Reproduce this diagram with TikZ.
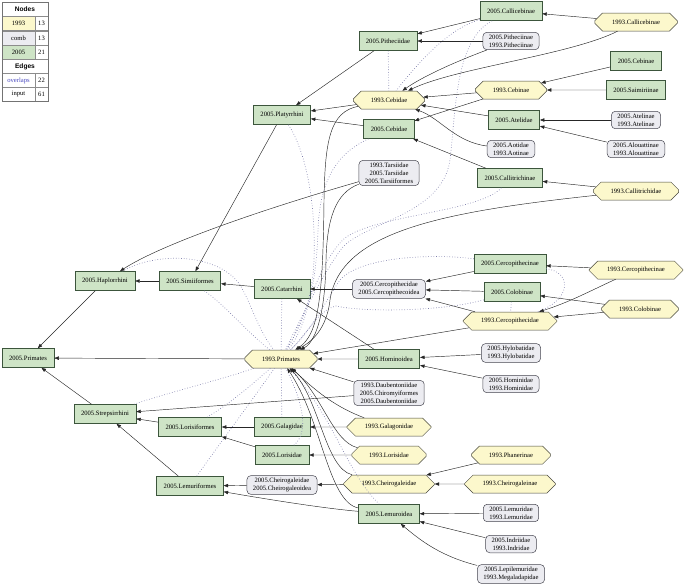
\documentclass[tikz,border=0pt]{standalone}
\usepackage{fontspec}
\setmainfont{Liberation Serif}
\setsansfont{Liberation Sans}
\usetikzlibrary{arrows.meta,shapes.misc}
\definecolor{yelfill}{RGB}{252,248,204}
\definecolor{yelline}{RGB}{70,70,60}
\definecolor{grnfill}{RGB}{206,228,198}
\definecolor{grnline}{RGB}{60,85,60}
\definecolor{combfill}{RGB}{236,236,241}
\definecolor{combline}{RGB}{70,70,80}
\definecolor{ovlcol}{RGB}{125,125,170}
\definecolor{ovltext}{RGB}{70,70,190}

\begin{document}
\begin{tikzpicture}[x=1pt,y=-1pt,font=\fontsize{6.6}{7.8}\selectfont,>={Triangle[length=4.5pt,width=3.4pt]},
  g05/.style={draw=grnline,fill=grnfill,line width=0.6pt,inner xsep=7pt,inner ysep=0pt,minimum height=19pt},
  y93/.style={chamfered rectangle,chamfered rectangle xsep=13pt,chamfered rectangle ysep=4.5pt,draw=yelline,fill=yelfill,line width=0.5pt,inner xsep=14pt,inner ysep=1pt,minimum height=18pt},
  comb/.style={draw=combline,fill=combfill,line width=0.5pt,rounded corners=4pt,align=center,inner xsep=6pt,inner ysep=2.5pt},
  lnk/.style={->,draw=black!85,line width=0.45pt},
  ovl/.style={draw=ovlcol,dotted,line width=0.65pt},
  cell/.style={draw=black!45,line width=0.4pt,inner sep=0pt,minimum height=14pt}]
\useasboundingbox (0,0) rectangle (692,587);

\node[cell,minimum width=46pt] (lgNodes) at (25,9) {\sffamily\bfseries Nodes};
\node[cell,fill=yelfill,minimum width=33pt] (lg93) at (18.5,23.5) {1993};
\node[cell,minimum width=13pt] (lg93n) at (41.5,23.5) {13};
\node[cell,fill=combfill,minimum width=33pt] (lgComb) at (18.5,38) {comb};
\node[cell,minimum width=13pt] (lgCombn) at (41.5,38) {13};
\node[cell,fill=grnfill,minimum width=33pt] (lg05) at (18.5,52.5) {2005};
\node[cell,minimum width=13pt] (lg05n) at (41.5,52.5) {21};
\node[cell,minimum width=46pt] (lgEdges) at (25,66.5) {\sffamily\bfseries Edges};
\node[cell,text=ovltext,minimum width=33pt] (lgOvl) at (18.5,80.5) {overlaps};
\node[cell,minimum width=13pt] (lgOvln) at (41.5,80.5) {22};
\node[cell,minimum width=33pt] (lgInput) at (18.5,94.5) {input};
\node[cell,minimum width=13pt] (lgInputn) at (41.5,94.5) {61};
\draw[black!55,line width=0.5pt] (lgNodes.north west) rectangle (lgInputn.south east);

\node[g05] (c05Callicebinae) at (511,11) {2005.Callicebinae};
\node[comb] (cbPitheciinae) at (511,41) {2005.Pitheciinae\\1993.Pitheciinae};
\node[y93] (y93Callicebinae) at (636,22) {1993.Callicebinae};
\node[g05] (c05Pitheciidae) at (388,41) {2005.Pitheciidae};
\node[y93] (y93Cebidae) at (389,100) {1993.Cebidae};
\node[g05] (c05Platyrrhini) at (282,115) {2005.Platyrrhini};
\node[g05] (c05Cebidae) at (389,129) {2005.Cebidae};
\node[g05] (c05Cebinae) at (636,61) {2005.Cebinae};
\node[g05] (c05Saimiriinae) at (636,90) {2005.Saimiriinae};
\node[y93] (y93Cebinae) at (511,90) {1993.Cebinae};
\node[g05] (c05Atelidae) at (514,120) {2005.Atelidae};
\node[comb] (cbAtelinae) at (636,120) {2005.Atelinae\\1993.Atelinae};
\node[comb] (cbAlouattinae) at (636,149) {2005.Alouattinae\\1993.Alouattinae};
\node[comb] (cbAotidae) at (511,149) {2005.Aotidae\\1993.Aotinae};
\node[comb] (cbTarsiidae) at (389,173) {1993.Tarsiidae\\2005.Tarsiidae\\2005.Tarsiiformes};
\node[g05] (c05Callitrichinae) at (510,178) {2005.Callitrichinae};
\node[y93] (y93Callitrichidae) at (636,191) {1993.Callitrichidae};
\node[g05] (c05Haplorrhini) at (105,281) {2005.Haplorrhini};
\node[g05] (c05Simiiformes) at (190,281) {2005.Simiiformes};
\node[g05] (c05Catarrhini) at (282,289) {2005.Catarrhini};
\node[comb] (cbCercopithecidae) at (389,289) {2005.Cercopithecidae\\2005.Cercopithecoidea};
\node[g05] (c05Cercopithecinae) at (510,264) {2005.Cercopithecinae};
\node[g05] (c05Colobinae) at (512,292) {2005.Colobinae};
\node[y93] (y93Cercopithecinae) at (636,270) {1993.Cercopithecinae};
\node[y93] (y93Colobinae) at (640,309) {1993.Colobinae};
\node[y93] (y93Cercopithecidae) at (510,321) {1993.Cercopithecidae};
\node[g05] (c05Primates) at (28,358) {2005.Primates};
\node[y93] (y93Primates) at (281,359) {1993.Primates};
\node[g05] (c05Hominoidea) at (389,359) {2005.Hominoidea};
\node[comb] (cbHylobatidae) at (511,353) {2005.Hylobatidae\\1993.Hylobatidae};
\node[comb] (cbHominidae) at (511,384) {2005.Hominidae\\1993.Hominidae};
\node[comb] (cbDaubentoniidae) at (389,393) {1993.Daubentoniidae\\2005.Chiromyiformes\\2005.Daubentoniidae};
\node[g05] (c05Strepsirrhini) at (105,414) {2005.Strepsirrhini};
\node[g05] (c05Lorisiformes) at (190,427) {2005.Lorisiformes};
\node[g05] (c05Galagidae) at (282,427) {2005.Galagidae};
\node[y93] (y93Galagonidae) at (389,427) {1993.Galagonidae};
\node[g05] (c05Lorisidae) at (282,455) {2005.Lorisidae};
\node[y93] (y93Lorisidae) at (389,455) {1993.Lorisidae};
\node[y93] (y93Phanerinae) at (511,455) {1993.Phanerinae};
\node[g05] (c05Lemuriformes) at (190,486) {2005.Lemuriformes};
\node[comb] (cbCheirogaleidae) at (282,485) {2005.Cheirogaleidae\\2005.Cheirogaleoidea};
\node[y93] (y93Cheirogaleidae) at (389,484) {1993.Cheirogaleidae};
\node[y93] (y93Cheirogaleinae) at (510,484) {1993.Cheirogaleinae};
\node[g05] (c05Lemuroidea) at (389,514) {2005.Lemuroidea};
\node[comb] (cbLemuridae) at (511,513) {2005.Lemuridae\\1993.Lemuridae};
\node[comb] (cbIndriidae) at (511,544) {2005.Indriidae\\1993.Indridae};
\node[comb] (cbLepilemuridae) at (511,574) {2005.Lepilemuridae\\1993.Megaladapidae};

\draw[ovl] (c05Pitheciidae) -- (y93Cebidae);
\draw[ovl] (c05Callicebinae) .. controls (450,28) and (420,60) .. (y93Cebidae);
\draw[ovl] (c05Callicebinae) .. controls (455,40) and (456,110) .. (450,160) .. controls (442,215) and (365,222) .. (342,248) .. controls (322,275) and (300,320) .. (y93Primates);
\draw[ovl] (c05Platyrrhini) .. controls (305,150) and (316,200) .. (314,260) .. controls (312,310) and (295,335) .. (y93Primates);
\draw[ovl] (c05Cebidae) .. controls (345,150) and (320,170) .. (318,230) .. controls (316,300) and (300,335) .. (y93Primates);
\draw[ovl] (c05Callitrichinae) .. controls (480,212) and (375,215) .. (345,238) .. controls (318,262) and (305,320) .. (y93Primates);
\draw[ovl] (c05Haplorrhini) .. controls (160,250) and (220,255) .. (240,285) .. controls (252,305) and (258,330) .. (y93Primates);
\draw[ovl] (c05Simiiformes) .. controls (225,305) and (245,330) .. (y93Primates);
\draw[ovl] (c05Catarrhini) -- (y93Primates);
\draw[ovl] (c05Cercopithecinae) .. controls (572,272) and (572,300) .. (y93Cercopithecidae);
\draw[ovl] (c05Colobinae) -- (y93Cercopithecidae);
\draw[ovl] (c05Cercopithecinae) .. controls (440,254) and (362,255) .. (340,280) .. controls (326,300) and (312,330) .. (y93Primates);
\draw[ovl] (c05Colobinae) .. controls (440,312) and (362,312) .. (336,306) .. controls (318,310) and (306,335) .. (y93Primates);
\draw[ovl] (c05Strepsirrhini) .. controls (170,392) and (220,380) .. (y93Primates);
\draw[ovl] (c05Lorisiformes) .. controls (228,405) and (248,388) .. (y93Primates);
\draw[ovl] (c05Lemuriformes) .. controls (215,450) and (245,410) .. (y93Primates);
\draw[ovl] (c05Galagidae) -- (y93Primates);
\draw[ovl] (c05Lorisidae) .. controls (310,432) and (302,400) .. (y93Primates);
\draw[ovl] (c05Lemuroidea) .. controls (345,470) and (336,420) .. (y93Primates);

\draw[lnk] (y93Callicebinae) -- (c05Callicebinae);
\draw[lnk] (y93Callicebinae) .. controls (570,55) and (455,68) .. (y93Cebidae);
\draw[lnk] (c05Callicebinae) -- (c05Pitheciidae);
\draw[lnk] (cbPitheciinae) -- (c05Pitheciidae);
\draw[lnk] (cbPitheciinae) .. controls (460,60) and (425,75) .. (y93Cebidae);
\draw[lnk] (c05Pitheciidae) -- (c05Platyrrhini);
\draw[lnk] (y93Cebidae) -- (c05Platyrrhini);
\draw[lnk] (c05Cebidae) -- (c05Platyrrhini);
\draw[lnk] (y93Cebinae) -- (y93Cebidae);
\draw[lnk] (y93Cebinae) -- (c05Cebidae);
\draw[lnk] (c05Cebinae) -- (y93Cebinae);
\draw[lnk] (c05Saimiriinae) -- (y93Cebinae);
\draw[lnk] (c05Atelidae) -- (y93Cebidae);
\draw[lnk] (cbAtelinae) -- (c05Atelidae);
\draw[lnk] (cbAlouattinae) -- (c05Atelidae);
\draw[lnk] (cbAotidae) .. controls (455,142) and (440,118) .. (y93Cebidae);
\draw[lnk] (c05Callitrichinae) -- (c05Cebidae);
\draw[lnk] (y93Callitrichidae) -- (c05Callitrichinae);
\draw[lnk] (y93Callitrichidae) .. controls (440,212) and (340,232) .. (330,300) .. controls (326,335) and (305,345) .. (y93Primates);
\draw[lnk] (y93Cebidae) .. controls (330,112) and (325,140) .. (324,200) .. controls (323,300) and (318,335) .. (y93Primates);
\draw[lnk] (cbTarsiidae) .. controls (260,210) and (160,245) .. (c05Haplorrhini);
\draw[lnk] (cbTarsiidae) .. controls (335,193) and (327,220) .. (326,260) .. controls (325,330) and (310,345) .. (y93Primates);
\draw[lnk] (c05Platyrrhini) -- (c05Simiiformes);
\draw[lnk] (c05Simiiformes) -- (c05Haplorrhini);
\draw[lnk] (c05Haplorrhini) -- (c05Primates);
\draw[lnk] (c05Catarrhini) -- (c05Simiiformes);
\draw[lnk] (cbCercopithecidae) -- (c05Catarrhini);
\draw[lnk] (c05Cercopithecinae) -- (cbCercopithecidae);
\draw[lnk] (c05Colobinae) -- (cbCercopithecidae);
\draw[lnk] (y93Cercopithecidae) -- (cbCercopithecidae);
\draw[lnk] (y93Cercopithecinae) -- (c05Cercopithecinae);
\draw[lnk] (y93Cercopithecinae) .. controls (592,290) and (570,302) .. (y93Cercopithecidae);
\draw[lnk] (y93Colobinae) -- (c05Colobinae);
\draw[lnk] (y93Colobinae) -- (y93Cercopithecidae);
\draw[lnk] (y93Cercopithecidae) -- (y93Primates);
\draw[lnk] (c05Hominoidea) -- (y93Primates);
\draw[lnk] (c05Hominoidea) -- (c05Catarrhini);
\draw[lnk] (cbHylobatidae) -- (c05Hominoidea);
\draw[lnk] (cbHominidae) -- (c05Hominoidea);
\draw[lnk] (y93Primates) -- (c05Primates);
\draw[lnk] (cbDaubentoniidae) -- (y93Primates);
\draw[lnk] (cbDaubentoniidae) -- (c05Strepsirrhini);
\draw[lnk] (c05Strepsirrhini) -- (c05Primates);
\draw[lnk] (c05Lorisiformes) -- (c05Strepsirrhini);
\draw[lnk] (c05Lemuriformes) -- (c05Strepsirrhini);
\draw[lnk] (c05Galagidae) -- (c05Lorisiformes);
\draw[lnk] (c05Lorisidae) -- (c05Lorisiformes);
\draw[lnk] (y93Galagonidae) -- (c05Galagidae);
\draw[lnk] (y93Galagonidae) .. controls (330,405) and (310,385) .. (y93Primates);
\draw[lnk] (y93Lorisidae) .. controls (333,442) and (322,395) .. (y93Primates);
\draw[lnk] (y93Lorisidae) -- (c05Lorisidae);
\draw[lnk] (y93Cheirogaleidae) -- (cbCheirogaleidae);
\draw[lnk] (y93Cheirogaleidae) .. controls (325,468) and (320,400) .. (y93Primates);
\draw[lnk] (y93Phanerinae) -- (y93Cheirogaleidae);
\draw[lnk] (y93Cheirogaleinae) -- (y93Cheirogaleidae);
\draw[lnk] (cbCheirogaleidae) -- (c05Lemuriformes);
\draw[lnk] (c05Lemuroidea) .. controls (320,508) and (260,498) .. (c05Lemuriformes);
\draw[lnk] (c05Lemuroidea) .. controls (328,502) and (322,420) .. (y93Primates);
\draw[lnk] (cbLemuridae) -- (c05Lemuroidea);
\draw[lnk] (cbIndriidae) -- (c05Lemuroidea);
\draw[lnk] (cbLepilemuridae) .. controls (440,556) and (420,540) .. (c05Lemuroidea);
\end{tikzpicture}
\end{document}
